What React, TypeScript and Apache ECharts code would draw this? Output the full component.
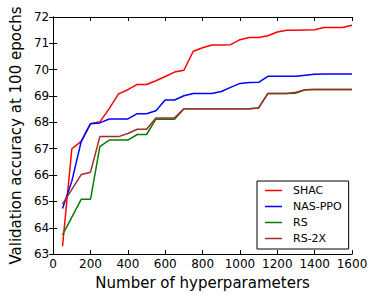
import React, { useEffect, useRef } from "react";
import * as echarts from "echarts";

const budgets = [50, 100, 150, 200, 250, 300, 350, 400, 450, 500, 550, 600, 650, 700, 750, 800, 850, 900, 950, 1000, 1050, 1100, 1150, 1200, 1250, 1300, 1350, 1400, 1450, 1500, 1550, 1600];
const shac = [63.3, 67.0, 67.28, 67.95, 68.02, 68.52, 69.08, 69.24, 69.44, 69.44, 69.58, 69.74, 69.91, 69.98, 70.7, 70.83, 70.94, 70.94, 70.95, 71.14, 71.22, 71.22, 71.29, 71.43, 71.5, 71.5, 71.51, 71.52, 71.6, 71.6, 71.6, 71.69];
const nasPpo = [64.73, 65.77, 67.27, 67.95, 67.98, 68.13, 68.13, 68.13, 68.33, 68.33, 68.44, 68.85, 68.85, 69.01, 69.1, 69.1, 69.1, 69.17, 69.33, 69.48, 69.51, 69.52, 69.75, 69.75, 69.75, 69.75, 69.79, 69.83, 69.84, 69.84, 69.84, 69.84];
const rs = [63.73, 64.4, 65.08, 65.08, 67.08, 67.33, 67.33, 67.33, 67.54, 67.54, 68.12, 68.12, 68.12, 68.52, 68.52, 68.52, 68.52, 68.52, 68.52, 68.52, 68.52, 68.55, 69.1, 69.1, 69.1, 69.11, 69.24, 69.25, 69.25, 69.25, 69.25, 69.25];
const rs2x = [64.9, 65.46, 66.02, 66.11, 67.46, 67.46, 67.46, 67.58, 67.74, 67.74, 68.17, 68.17, 68.17, 68.52, 68.52, 68.52, 68.52, 68.52, 68.52, 68.52, 68.52, 68.55, 69.1, 69.1, 69.1, 69.14, 69.24, 69.25, 69.25, 69.25, 69.25, 69.25];

const seriesNames = ["SHAC", "NAS-PPO", "RS", "RS-2X"];
const seriesColors = ["#ff0000", "#0000ff", "#008000", "#a52a2a"];
const seriesValues = [shac, nasPpo, rs, rs2x];

const FONT = "DejaVu Sans";

export default function App() {
  const ref = useRef<HTMLDivElement>(null);
  useEffect(() => {
    if (!ref.current) return;
    const chart = echarts.init(ref.current, null, { renderer: "svg" });
    const tick = { show: true, inside: true, length: 4, lineStyle: { color: "#000", width: 1 } };
    const line = { show: true, lineStyle: { color: "#000", width: 1 } };
    const xBase = { type: "value", min: 0, max: 1600, interval: 200, splitLine: { show: false }, axisLine: line, axisTick: tick };
    const yBase = { type: "value", min: 63, max: 72, interval: 1, splitLine: { show: false }, axisLine: line, axisTick: tick };
    chart.setOption({
      animation: false,
      backgroundColor: "#fff",
      color: seriesColors,
      textStyle: { fontFamily: FONT },
      grid: { left: 42, top: 17, width: 310, height: 240, containLabel: false },
      xAxis: [
        {
          ...xBase,
          position: "bottom",
          axisLabel: { show: true, fontSize: 12, color: "#000", fontFamily: FONT, margin: 4, formatter: (v: number) => String(v) },
          name: "Number of hyperparameters",
          nameLocation: "middle",
          nameGap: 17,
          nameTextStyle: { fontSize: 15, color: "#000", fontFamily: FONT },
        },
        { ...xBase, position: "top", axisLabel: { show: false } },
      ],
      yAxis: [
        {
          ...yBase,
          position: "left",
          axisLabel: { show: true, fontSize: 12, color: "#000", fontFamily: FONT, margin: 4 },
          name: "Validation accuracy at 100 epochs",
          nameLocation: "middle",
          nameGap: 22,
          nameTextStyle: { fontSize: 15, color: "#000", fontFamily: FONT },
        },
        { ...yBase, position: "right", axisLabel: { show: false } },
      ],
      legend: {
        orient: "vertical",
        left: 257,
        top: 181,
        padding: [4, 7, 5, 8],
        itemGap: 5,
        itemWidth: 17,
        itemHeight: 12,
        icon: "path://M0 0 H17 V1.5 H0 Z",
        symbolKeepAspect: true,
        borderColor: "#000",
        borderWidth: 1,
        borderRadius: 0,
        backgroundColor: "#fff",
        textStyle: { fontSize: 11, color: "#000", fontFamily: FONT, padding: [0, 0, 0, 6] },
        data: seriesNames.map((n, i) => ({ name: n, itemStyle: { color: seriesColors[i] } })),
      },
      series: seriesNames.map((name, i) => ({
        name,
        type: "line",
        xAxisIndex: 0,
        yAxisIndex: 0,
        symbol: "none",
        itemStyle: { color: seriesColors[i] },
        lineStyle: { color: seriesColors[i], width: 1.5 },
        data: budgets.map((b, j) => [b, seriesValues[i][j]]),
      })),
    });
    return () => chart.dispose();
  }, []);
  return <div ref={ref} style={{ width: 373, height: 295, position: "absolute", left: 0, top: 0 }} />;
}
